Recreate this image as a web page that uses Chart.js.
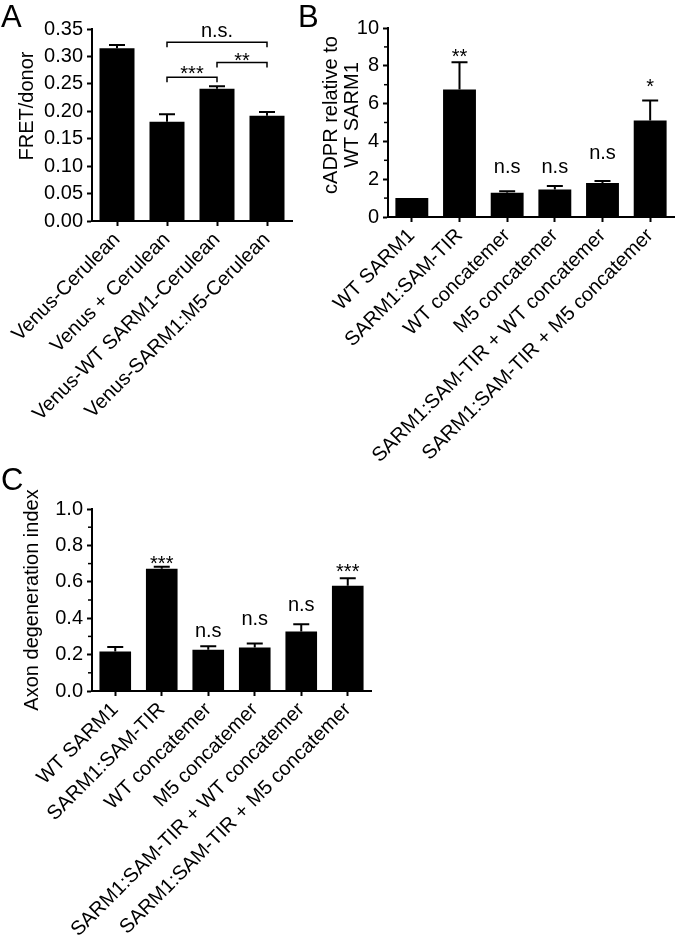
<!DOCTYPE html>
<html>
<head>
<meta charset="utf-8">
<script src="https://cdn.jsdelivr.net/npm/chart.js@4.4.1/dist/chart.umd.min.js"></script>
<style>
  body { margin: 0; background: #fff; }
  #wrap { position: relative; width: 677px; height: 936px; overflow: hidden; }
  canvas { position: absolute; }
</style>
</head>
<body>
<div id="wrap">
  <canvas id="chart-a" width="300" height="420" style="left:0;top:0"></canvas>
  <canvas id="chart-b" width="377" height="480" style="left:300px;top:0"></canvas>
  <canvas id="chart-c" width="400" height="476" style="left:0;top:460px"></canvas>
</div>
<script>
// panel A: FRET
const fretLabels = ['Venus-Cerulean', 'Venus + Cerulean', 'Venus-WT SARM1-Cerulean', 'Venus-SARM1:M5-Cerulean'];
const fretValues = [0.315, 0.181, 0.241, 0.192];
const fretErrors = [0.006, 0.0135, 0.0045, 0.0067];
const fretTicks = [0, 0.05, 0.10, 0.15, 0.20, 0.25, 0.30, 0.35];
const bracketFrom = [1, 1, 2];
const bracketTo = [3, 2, 3];
const bracketY = [0.326, 0.262, 0.289];
const bracketText = ['n.s.', '***', '**'];
const bracketTextY = [0.335, 0.2575, 0.280];

// panels B and C share categories
const sarmLabels = ['WT SARM1', 'SARM1:SAM-TIR', 'WT concatemer', 'M5 concatemer',
  'SARM1:SAM-TIR + WT concatemer', 'SARM1:SAM-TIR + M5 concatemer'];

// panel B: cADPR
const cadprValues = [1.0, 6.74, 1.28, 1.45, 1.80, 5.11];
const cadprErrors = [0, 1.45, 0.08, 0.19, 0.11, 1.06];
const cadprSig = ['', '**', 'n.s', 'n.s', 'n.s', '*'];
const cadprSigY = [0, 8.16, 2.33, 2.33, 3.08, 6.57];
const cadprMinor = [1, 3, 5, 7, 9];

// panel C: axon degeneration
const axonValues = [0.217, 0.672, 0.226, 0.239, 0.327, 0.578];
const axonErrors = [0.025, 0.011, 0.020, 0.022, 0.040, 0.041];
const axonSig = ['', '***', 'n.s', 'n.s', 'n.s', '***'];
const axonSigY = [0, 0.667, 0.296, 0.360, 0.437, 0.621];
const axonMinor = [0.1, 0.3, 0.5, 0.7, 0.9];

const FONT = '"Liberation Sans", Arial, Helvetica, sans-serif';
Chart.defaults.font.family = FONT;
Chart.defaults.font.size = 20;
Chart.defaults.color = '#000';

// error bars, minor ticks, significance marks, panel letter and y title
const extras = {
  id: 'extras',
  afterDatasetsDraw(chart, args, o) {
    const { ctx, chartArea } = chart;
    const ys = chart.scales.y, xs = chart.scales.x;
    const bars = chart.getDatasetMeta(0).data;
    const vals = chart.data.datasets[0].data;
    ctx.save();
    ctx.strokeStyle = '#000';
    ctx.fillStyle = '#000';

    ctx.lineWidth = 2;
    (o.errors || []).forEach((e, i) => {
      if (!e) return;
      const bx = bars[i].x;
      const top = ys.getPixelForValue(vals[i] + e);
      ctx.beginPath();
      ctx.moveTo(bx, bars[i].y);
      ctx.lineTo(bx, top);
      ctx.moveTo(bx - 8, top);
      ctx.lineTo(bx + 8, top);
      ctx.stroke();
    });

    ctx.lineWidth = 1.5;
    (o.minor || []).forEach(v => {
      const py = ys.getPixelForValue(v);
      ctx.beginPath();
      ctx.moveTo(chartArea.left - 4, py);
      ctx.lineTo(chartArea.left, py);
      ctx.stroke();
    });

    ctx.font = '20px ' + FONT;
    ctx.textAlign = 'center';
    ctx.textBaseline = 'alphabetic';
    (o.sig || []).forEach((s, i) => {
      if (!s) return;
      ctx.fillText(s, bars[i].x, ys.getPixelForValue(o.sigY[i]));
    });

    if (o.brackets) {
      const b = o.brackets;
      ctx.lineWidth = 1.5;
      b.from.forEach((f, i) => {
        const x1 = xs.getPixelForValue(f), x2 = xs.getPixelForValue(b.to[i]);
        const py = ys.getPixelForValue(b.y[i]);
        ctx.beginPath();
        ctx.moveTo(x1, py + 5);
        ctx.lineTo(x1, py);
        ctx.lineTo(x2, py);
        ctx.lineTo(x2, py + 5);
        ctx.stroke();
        ctx.fillText(b.text[i], (x1 + x2) / 2, ys.getPixelForValue(b.textY[i]));
      });
    }

    ctx.textAlign = 'left';
    ctx.font = '31px ' + FONT;
    ctx.fillText(o.letter.text, o.letter.x, o.letter.y);

    ctx.font = '20px ' + FONT;
    ctx.textAlign = 'center';
    o.title.forEach(t => {
      ctx.save();
      ctx.translate(t.x, t.y);
      ctx.rotate(-Math.PI / 2);
      ctx.fillText(t.text, 0, 0);
      ctx.restore();
    });
    ctx.restore();
  }
};

function makeChart(id, cfg) {
  return new Chart(document.getElementById(id), {
    type: 'bar',
    data: {
      labels: cfg.labels,
      datasets: [{
        data: cfg.values,
        backgroundColor: '#000',
        borderWidth: 0,
        barPercentage: cfg.barPct,
        categoryPercentage: 1
      }]
    },
    options: {
      responsive: false,
      animation: false,
      layout: { padding: cfg.padding },
      plugins: {
        legend: { display: false },
        tooltip: { enabled: false },
        extras: cfg.extras
      },
      scales: {
        x: {
          grid: { offset: false, drawOnChartArea: false, tickLength: 5, tickWidth: 2, tickColor: '#000' },
          border: { color: '#000', width: 2 },
          ticks: { autoSkip: false, minRotation: 45, maxRotation: 45, padding: 2 },
          afterFit(s) { s.height = cfg.xHeight; s.paddingLeft = 0; s.paddingRight = 0; }
        },
        y: {
          min: cfg.min,
          max: cfg.max,
          grid: { drawOnChartArea: false, tickLength: 5, tickWidth: 2, tickColor: '#000' },
          border: { color: '#000', width: 2 },
          ticks: { stepSize: cfg.step, padding: 4, callback: cfg.fmt },
          afterBuildTicks(s) { if (cfg.ticks) s.ticks = cfg.ticks.map(v => ({ value: v })); },
          afterFit(s) { s.width = cfg.yWidth; }
        }
      }
    },
    plugins: [extras]
  });
}

makeChart('chart-a', {
  labels: fretLabels, values: fretValues, barPct: 0.7,
  min: 0, max: 0.35, step: 0.05, ticks: fretTicks, fmt: v => v.toFixed(2),
  padding: { left: 0, top: 29, right: 8, bottom: 0 }, yWidth: 92, xHeight: 199,
  extras: {
    errors: fretErrors,
    brackets: { from: bracketFrom, to: bracketTo, y: bracketY, text: bracketText, textY: bracketTextY },
    letter: { text: 'A', x: 1, y: 27 },
    title: [{ text: 'FRET/donor', x: 33, y: 106 }]
  }
});

makeChart('chart-b', {
  labels: sarmLabels, values: cadprValues, barPct: 0.69,
  min: 0, max: 10, step: 2, fmt: v => String(v),
  padding: { left: 0, top: 28, right: 3, bottom: 0 }, yWidth: 88, xHeight: 263,
  extras: {
    errors: cadprErrors, minor: cadprMinor, sig: cadprSig, sigY: cadprSigY,
    letter: { text: 'B', x: -2, y: 27 },
    title: [{ text: 'cADPR relative to', x: 37, y: 115 }, { text: 'WT SARM1', x: 58, y: 115 }]
  }
});

makeChart('chart-c', {
  labels: sarmLabels, values: axonValues, barPct: 0.68,
  min: 0, max: 1, step: 0.2, fmt: v => v.toFixed(1),
  padding: { left: 0, top: 49, right: 29, bottom: 0 }, yWidth: 92, xHeight: 245,
  extras: {
    errors: axonErrors, minor: axonMinor, sig: axonSig, sigY: axonSigY,
    letter: { text: 'C', x: 1, y: 30 },
    title: [{ text: 'Axon degeneration index', x: 38, y: 140 }]
  }
});
</script>
</body>
</html>
